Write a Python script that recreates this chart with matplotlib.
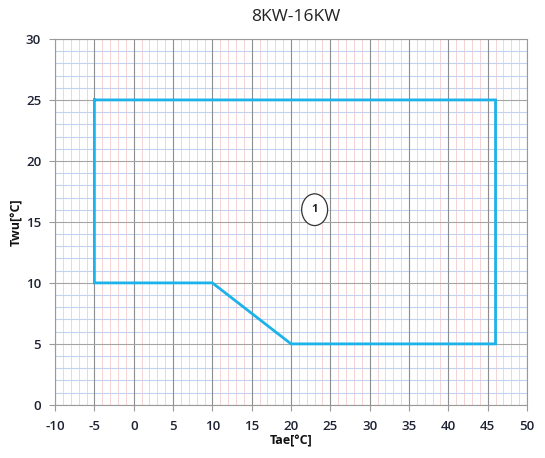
import matplotlib
matplotlib.use("Agg")
import matplotlib.pyplot as plt
from matplotlib.patches import Ellipse
import numpy as np

plt.rcParams["axes.unicode_minus"] = False

# Operating envelope: ambient temperature (Tae) vs water outlet temperature (Twu)
tae = [-5, 46, 46, 20, 10, -5, -5]
twu = [25, 25, 5, 5, 10, 10, 25]
zone_label = "1"
zone_pos = (23, 16)

x_ticks = list(range(-10, 51, 5))
y_ticks = list(range(0, 31, 5))

fig = plt.figure(figsize=(5.45, 4.58), dpi=100)
ax = fig.add_axes([0.101, 0.116, 0.866, 0.799])

ax.set_xlim(-10, 50)
ax.set_ylim(0, 30)

# fine grid: pink verticals, blue horizontals, grey majors
for x in np.arange(-10, 51, 1):
    if x % 5:
        ax.axvline(x, color="#f5d3d3", lw=0.7, zorder=0)
for y in np.arange(0, 31, 1):
    if y % 5:
        ax.axhline(y, color="#c3d2f0", lw=0.8, zorder=0)
for x in x_ticks:
    ax.axvline(x, color="#8e8e8e", lw=0.8, zorder=1)
for y in y_ticks:
    ax.axhline(y, color="#a4a4a4", lw=0.8, zorder=1)

ax.plot(tae, twu, color="#1cb2ea", lw=2.0, zorder=3, solid_joinstyle="miter")

ax.add_patch(Ellipse(zone_pos, width=3.3, height=2.6, facecolor="white",
                     edgecolor="#333333", lw=0.9, zorder=4))
ax.text(zone_pos[0], zone_pos[1], zone_label, ha="center", va="center",
        fontsize=8, fontweight="bold", color="#222222", zorder=5,
        family="Open Sans")

ax.set_xticks(x_ticks)
ax.set_yticks(y_ticks)
for s in ax.spines.values():
    s.set_color("#9a9a9a")
    s.set_linewidth(0.8)
ax.tick_params(direction="out", length=4, color="#9a9a9a", labelsize=9.5,
               labelcolor="#1e2233")
ax.tick_params(axis="x", pad=7)
ax.tick_params(axis="y", pad=6)
for lab in ax.get_xticklabels() + ax.get_yticklabels():
    lab.set_family("Open Sans")
    lab.set_fontweight("semibold")

ax.set_xlabel("Tae[°C]", fontsize=9, fontweight="bold", family="Open Sans",
              color="#111111", labelpad=1)
ax.set_ylabel("Twu[°C]", fontsize=9, fontweight="bold", family="Open Sans",
              color="#111111", labelpad=2)

fig.text(0.543, 0.962, "8KW-16KW", ha="center", va="center", fontsize=12.5,
         family="Open Sans", color="#222222")

fig.savefig("out.png", dpi=100)
